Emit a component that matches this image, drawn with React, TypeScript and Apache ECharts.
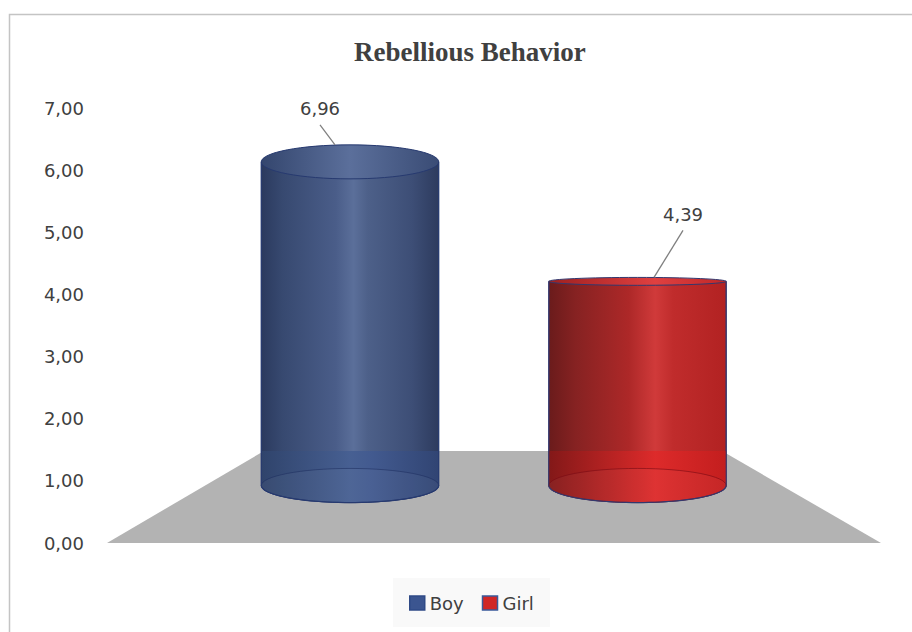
import { useEffect, useRef } from 'react';
import * as echarts from 'echarts';

// ---- data ----
const categories = ['Boy', 'Girl'];
const values = [6.96, 4.39];
const yMin = 0;
const yMax = 7;
const yStep = 1;
const chartTitle = 'Rebellious Behavior';

// ---- styling ----
const TEXT_COLOR = '#404040';
const SANS = '"DejaVu Sans", "Noto Sans", sans-serif';
const FLOOR_COLOR = '#b3b3b3';
const BAR_RATIO = 0.617; // cylinder diameter as share of the category band
const FLOOR_BACK_OFFSET = 34.5; // floor's back edge above a cylinder's base centre
const FLOOR_DEPTH = 92;
const FLOOR_INSET_L = 157;
const FLOOR_INSET_R = 159;

type Stop = [number, string];
const PALETTE: {
  body: Stop[];
  lower: Stop[];
  top: Stop[];
  edge: string;
  inner: string;
  legend: string;
  legendBorder: string;
}[] = [
  {
    body: [
      [0, '#2b3a5e'],
      [0.12, '#374970'],
      [0.42, '#4a5d89'],
      [0.52, '#5b6f9a'],
      [0.6, '#4d6089'],
      [0.85, '#3d4e76'],
      [1, '#2d3b5e'],
    ],
    lower: [
      [0, '#30446c'],
      [0.5, '#465f92'],
      [0.62, '#425a90'],
      [1, '#314574'],
    ],
    top: [
      [0, '#34466e'],
      [0.5, '#5b6f9b'],
      [1, '#3a4c75'],
    ],
    edge: '#273a70',
    inner: 'rgba(30,45,95,0.55)',
    legend: '#3b5590',
    legendBorder: '#2f4a86',
  },
  {
    body: [
      [0, '#6a1b1b'],
      [0.15, '#862222'],
      [0.45, '#ad2828'],
      [0.6, '#d03a3a'],
      [0.7, '#c02c2c'],
      [1, '#b22222'],
    ],
    lower: [
      [0, '#841818'],
      [0.6, '#de2a2a'],
      [1, '#c41e1e'],
    ],
    top: [
      [0, '#9e2020'],
      [0.6, '#e04040'],
      [1, '#c02828'],
    ],
    edge: '#33386e',
    inner: 'rgba(120,10,20,0.6)',
    legend: '#d02626',
    legendBorder: '#3a5a9a',
  },
];

// where each value label sits: leader end offset from the cap's back point,
// leader length (dx, dy), then the text above the leader start
const LABEL_LAYOUT = [
  { endDx: -15, dx: -15, dy: -20 },
  { endDx: 16.5, dx: 29, dy: -47 },
];

const fmt = (v: number) => v.toFixed(2).replace('.', ',');

// foreshortening of the elliptical caps depending on height in view
const capRy = (y: number) => 3 + 0.000536 * (y - 323.5) * (y - 323.5);

const frontArc = (cx: number, cy: number, rx: number, ry: number, n = 48) => {
  const pts: number[][] = [];
  for (let k = 0; k <= n; k++) {
    const t = Math.PI - (Math.PI * k) / n;
    pts.push([cx + rx * Math.cos(t), cy + ry * Math.sin(t)]);
  }
  return pts;
};

const grad = (stops: Stop[]) =>
  new echarts.graphic.LinearGradient(
    0,
    0,
    1,
    0,
    stops.map(([offset, color]) => ({ offset, color }))
  );

function makeCylinder(i: number) {
  return (_params: any, api: any) => {
    const idx = api.value(0);
    const v = api.value(1);
    const topPt = api.coord([idx, v]);
    const basePt = api.coord([idx, 0]);
    const cx = topPt[0];
    const topY = topPt[1];
    const baseY = basePt[1];
    const rx = (api.size([1, 0])[0] * BAR_RATIO) / 2;
    const ryT = capRy(topY);
    const ryB = capRy(baseY);
    const floorY = baseY - FLOOR_BACK_OFFSET;
    const pal = PALETTE[i];
    const front = frontArc(cx, baseY, rx, ryB);
    const lay = LABEL_LAYOUT[i];
    const endX = cx + lay.endDx;
    const endY = topY - ryT;
    const startX = endX + lay.dx;
    const startY = endY + lay.dy;

    return {
      type: 'group',
      children: [
        {
          type: 'polygon',
          shape: { points: [[cx - rx, topY], ...front, [cx + rx, topY]] },
          style: { fill: grad(pal.body), stroke: pal.edge, lineWidth: 1 },
        },
        {
          type: 'polygon',
          shape: { points: [[cx - rx, floorY], ...front, [cx + rx, floorY]] },
          style: { fill: grad(pal.lower), opacity: 0.95 },
        },
        {
          type: 'ellipse',
          shape: { cx, cy: baseY, rx, ry: ryB },
          style: { fill: 'rgba(255,255,255,0.04)', stroke: pal.inner, lineWidth: 1 },
        },
        {
          type: 'polyline',
          shape: { points: front },
          style: { fill: null, stroke: pal.edge, lineWidth: 1.2 },
        },
        {
          type: 'line',
          shape: { x1: cx - rx, y1: topY, x2: cx - rx, y2: baseY },
          style: { stroke: pal.edge, lineWidth: 1 },
        },
        {
          type: 'line',
          shape: { x1: cx + rx, y1: topY, x2: cx + rx, y2: baseY },
          style: { stroke: pal.edge, lineWidth: 1 },
        },
        {
          type: 'ellipse',
          shape: { cx, cy: topY, rx, ry: ryT },
          style: { fill: grad(pal.top), stroke: pal.edge, lineWidth: 1 },
        },
        {
          type: 'line',
          shape: { x1: startX, y1: startY, x2: endX, y2: endY },
          style: { stroke: '#7f7f7f', lineWidth: 1.3 },
        },
        {
          type: 'text',
          x: startX,
          y: startY - 16,
          style: {
            text: fmt(v),
            fill: TEXT_COLOR,
            font: `18px ${SANS}`,
            align: 'center',
            verticalAlign: 'middle',
          },
        },
      ],
    };
  };
}

function renderFloor(params: any, api: any) {
  const cs = params.coordSys;
  const frontY = api.coord([0, yMin])[1];
  const left = cs.x;
  const right = cs.x + cs.width;
  const backY = frontY - FLOOR_DEPTH;
  return {
    type: 'polygon',
    shape: {
      points: [
        [left, frontY],
        [left + FLOOR_INSET_L, backY],
        [right - FLOOR_INSET_R, backY],
        [right, frontY],
      ],
    },
    style: { fill: FLOOR_COLOR },
  };
}

export default function App() {
  const ref = useRef<HTMLDivElement>(null);

  useEffect(() => {
    if (!ref.current) return;
    const chart = echarts.init(ref.current, null, { renderer: 'svg' });

    const option: any = {
      animation: false,
      backgroundColor: '#ffffff',
      title: {
        text: chartTitle,
        left: 354,
        top: 38,
        padding: 0,
        textStyle: {
          fontFamily: '"Liberation Serif", "Times New Roman", serif',
          fontWeight: 'bold',
          fontSize: 27,
          color: TEXT_COLOR,
        },
      },
      graphic: [
        {
          type: 'rect',
          silent: true,
          z: -10,
          shape: { x: 9.5, y: 14.5, width: 1000, height: 1000 },
          style: { fill: 'none', stroke: '#c4c4c4', lineWidth: 1.5 },
        },
      ],
      legend: {
        data: categories.map((name, i) => ({
          name,
          itemStyle: {
            color: PALETTE[i].legend,
            borderColor: PALETTE[i].legendBorder,
            borderWidth: 1.5,
          },
        })),
        icon: 'rect',
        itemWidth: 15,
        itemHeight: 14,
        itemGap: 18,
        left: 393,
        top: 578,
        padding: [16, 16, 15, 16],
        backgroundColor: '#f9f9f9',
        textStyle: { fontFamily: SANS, fontSize: 18, color: TEXT_COLOR },
        selectedMode: false,
      },
      grid: [
        { left: 107, right: 31, top: 108, bottom: 89 },
        { left: 206.25, right: 130.75, top: 160, bottom: 146.5 },
      ],
      xAxis: [
        { type: 'category', gridIndex: 0, data: categories, show: false },
        {
          type: 'category',
          gridIndex: 1,
          data: categories,
          show: false,
          boundaryGap: true,
        },
      ],
      yAxis: [
        {
          type: 'value',
          gridIndex: 0,
          min: yMin,
          max: yMax,
          interval: yStep,
          axisLine: { show: false },
          axisTick: { show: false },
          splitLine: { show: false },
          axisLabel: {
            formatter: (v: number) => fmt(v),
            color: TEXT_COLOR,
            fontFamily: SANS,
            fontSize: 18,
            margin: 23,
          },
        },
        { type: 'value', gridIndex: 1, min: yMin, max: yMax, show: false },
      ],
      series: [
        {
          type: 'custom',
          name: 'floor',
          xAxisIndex: 0,
          yAxisIndex: 0,
          silent: true,
          data: [[0, yMin]],
          renderItem: renderFloor,
          z: 1,
        },
        ...categories.map((name, i) => ({
          type: 'custom',
          name,
          xAxisIndex: 1,
          yAxisIndex: 1,
          itemStyle: { color: PALETTE[i].legend },
          data: [[i, values[i]]],
          renderItem: makeCylinder(i),
          z: 2,
        })),
      ],
    };

    chart.setOption(option);
    return () => chart.dispose();
  }, []);

  return (
    <div
      ref={ref}
      style={{ position: 'absolute', left: 0, top: 0, width: 912, height: 632 }}
    />
  );
}
